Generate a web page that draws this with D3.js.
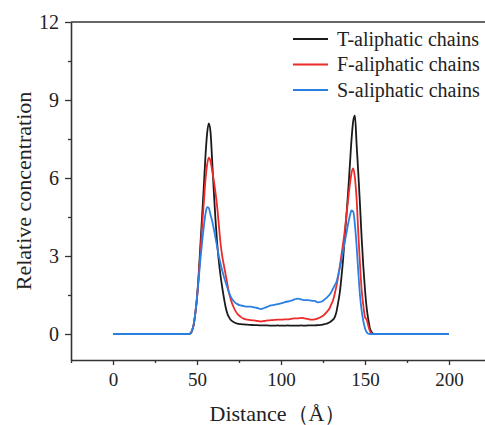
<!DOCTYPE html>
<html><head><meta charset="utf-8">
<script src="https://cdn.jsdelivr.net/npm/d3@7"></script>
<style>body{margin:0;background:#fff}svg{display:block}</style>
</head><body>
<script>
const distance = [0,45,46,47,48,49,50,51,52,53,54,55,56,57,58,59,60,61,62,63,64,65,66,67,68,69,70,72,74,76,78,80,82,84,86,88,90,92,94,96,98,100,102,104,106,108,110,112,114,116,118,120,122,124,126,128,129,130,131,132,133,134,135,136,137,138,139,140,141,142,143,144,145,146,147,148,149,150,151,152,153,154,155,156,200];
const tChains = [0,0,0.02,0.12,0.35,0.8,1.4,2.3,3.4,4.5,5.6,6.8,7.7,8.1,7.8,6.7,5.5,4.4,3.5,2.8,2.25,1.8,1.4,1.05,0.8,0.65,0.55,0.45,0.4,0.38,0.37,0.36,0.35,0.34,0.34,0.33,0.33,0.33,0.32,0.32,0.33,0.32,0.32,0.33,0.32,0.32,0.32,0.33,0.32,0.33,0.33,0.33,0.34,0.35,0.38,0.42,0.45,0.5,0.55,0.65,0.85,1.2,1.6,2.2,2.9,3.8,4.6,5.5,6.5,7.5,8.2,8.4,7.3,6.2,5.0,3.7,2.6,1.7,1.0,0.55,0.2,0.07,0.01,0,0];
const fChains = [0,0,0.02,0.12,0.35,0.8,1.4,2.2,3.1,4.1,5.0,5.9,6.5,6.78,6.65,6.3,5.9,5.45,4.9,4.2,3.5,3.0,2.65,2.3,1.95,1.6,1.35,1.0,0.78,0.66,0.58,0.55,0.53,0.52,0.5,0.48,0.5,0.52,0.53,0.54,0.55,0.55,0.56,0.56,0.58,0.6,0.6,0.62,0.6,0.58,0.55,0.56,0.6,0.66,0.76,0.9,1.0,1.15,1.3,1.55,1.85,2.2,2.6,3.05,3.5,4.0,4.6,5.2,5.75,6.2,6.37,6.0,5.2,3.9,2.7,1.7,1.1,0.65,0.55,0.3,0.1,0.02,0,0,0];
const sChains = [0,0,0.02,0.12,0.35,0.8,1.4,2.1,2.85,3.5,4.1,4.6,4.88,4.85,4.6,4.35,4.05,3.7,3.35,3.0,2.7,2.45,2.2,2.0,1.8,1.6,1.45,1.25,1.15,1.1,1.07,1.05,1.05,1.02,1.0,0.96,1.0,1.05,1.1,1.12,1.15,1.18,1.22,1.25,1.28,1.33,1.36,1.33,1.3,1.3,1.28,1.27,1.22,1.24,1.33,1.45,1.52,1.62,1.75,1.88,2.0,2.25,2.55,2.85,3.2,3.55,3.9,4.25,4.55,4.75,4.7,4.2,3.4,2.4,1.5,0.9,0.5,0.22,0.07,0.01,0,0,0,0,0];
const seriesNames = ["T-aliphatic chains","F-aliphatic chains","S-aliphatic chains"];
const seriesColors = ["#1a1a1a","#ee2a2a","#2a80e2"];
const xTicks = [0,50,100,150,200];
const yTicks = [0,3,6,9,12];

const W = 485, H = 425;
const svg = d3.select("body").append("svg").attr("width", W).attr("height", H);
const x = d3.scaleLinear().domain([-25, 225]).range([71, 491]);
const y = d3.scaleLinear().domain([-1, 12]).range([360, 22]);
const font = "Liberation Serif";
const axisColor = "#333";

// lines
const all = [tChains, fChains, sChains];
const line = d3.line().x((d,i)=>x(distance[i])).y(d=>y(d)).curve(d3.curveMonotoneX);
all.forEach((s, k) => {
  svg.append("path").datum(s).attr("d", line).attr("fill","none")
    .attr("stroke", seriesColors[k]).attr("stroke-width", 1.8).attr("stroke-linejoin","round");
});

// axes
const gx = svg.append("g").attr("transform", `translate(0,${y(-1)})`);
gx.call(d3.axisBottom(x).tickValues(xTicks).tickSize(5).tickSizeOuter(0).tickPadding(8));
const gxm = svg.append("g").attr("transform", `translate(0,${y(-1)})`);
gxm.call(d3.axisBottom(x).tickValues([-25,25,75,125,175,225]).tickSize(3).tickFormat("").tickSizeOuter(0));
gxm.select(".domain").remove();

const gy = svg.append("g").attr("transform", `translate(${x(-25)},0)`);
gy.call(d3.axisLeft(y).tickValues(yTicks).tickSize(6).tickSizeOuter(0).tickPadding(6));
const gym = svg.append("g").attr("transform", `translate(${x(-25)},0)`);
gym.call(d3.axisLeft(y).tickValues([1.5,4.5,7.5,10.5]).tickSize(3).tickFormat("").tickSizeOuter(0));
gym.select(".domain").remove();

svg.selectAll("g").attr("font-family", font);

svg.append("line").attr("x1", x(-25)).attr("x2", x(225)).attr("y1", y(12)).attr("y2", y(12))
  .attr("stroke", axisColor).attr("stroke-width", 1.6);

svg.selectAll(".domain").attr("stroke", axisColor).attr("stroke-width", 1.6);
svg.selectAll(".tick line").attr("stroke", axisColor).attr("stroke-width", 1.3);
gx.selectAll(".tick text").attr("font-family", font).attr("font-size", 19).attr("fill", "#222");
gy.selectAll(".tick text").attr("font-family", font).attr("font-size", 20).attr("fill", "#222");

// titles
svg.append("text").attr("transform", `translate(31,${(y(12)+y(-1))/2}) rotate(-90)`)
  .attr("text-anchor","middle").attr("font-family", font).attr("font-size", 22).attr("fill","#222")
  .text("Relative concentration");
svg.append("text").attr("x", 278).attr("y", 421).attr("text-anchor","middle")
  .attr("font-family", font).attr("font-size", 22).attr("fill","#222")
  .text("Distance（Å）");

// legend
const lg = svg.append("g");
seriesNames.forEach((n, k) => {
  const yy = 39 + k * 25.5;
  lg.append("line").attr("x1", 293).attr("x2", 328).attr("y1", yy).attr("y2", yy)
    .attr("stroke", seriesColors[k]).attr("stroke-width", 1.8);
  lg.append("text").attr("x", 337).attr("y", yy).attr("dy", "0.33em")
    .attr("font-family", font).attr("font-size", 20).attr("fill", "#222").text(n);
});
</script>
</body></html>
